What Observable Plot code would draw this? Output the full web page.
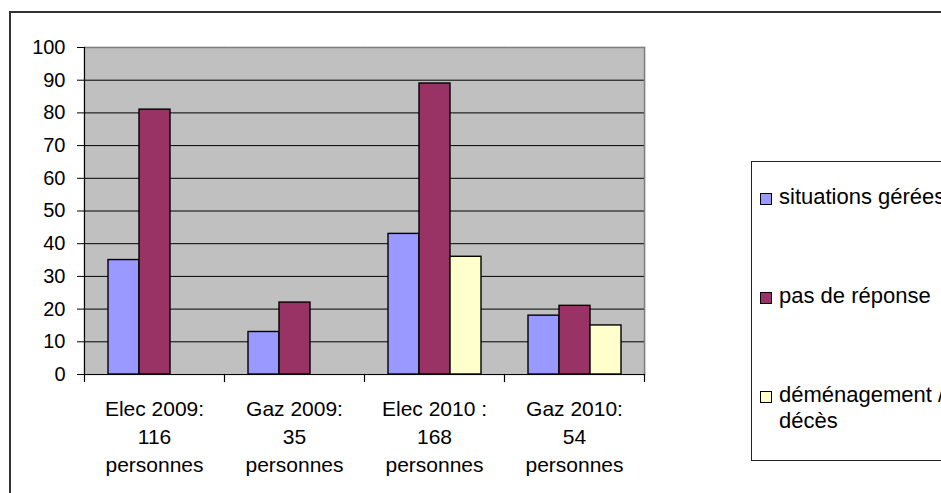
<!DOCTYPE html>
<html>
<head>
<meta charset="utf-8">
<script src="https://cdn.jsdelivr.net/npm/d3@7"></script>
<script src="https://cdn.jsdelivr.net/npm/@observablehq/plot@0.6"></script>
<style>
  html, body { margin: 0; padding: 0; background: #fff; }
  #wrap { position: relative; width: 941px; height: 493px; overflow: hidden; font-family: "Liberation Sans", Arial, sans-serif; }
  #outer { position: absolute; left: 9px; top: 11px; width: 2000px; height: 2000px; border-left: 2px solid #333; border-top: 2px solid #333; }
  #chart { position: absolute; left: 0; top: 0; }
  #legend { position: absolute; left: 751px; top: 161px; width: 400px; height: 298px; border: 1px solid #222; background: #fff; }
  .item { position: absolute; left: 0; font-size: 22px; line-height: 26px; color: #000; white-space: pre-line; }
  .sw { position: absolute; left: 8px; top: 9px; width: 12px; height: 12px; box-sizing: border-box; border: 1.5px solid #000; }
  .lbl { position: absolute; left: 27px; top: 0; width: 300px; }
</style>
</head>
<body>
<div id="wrap">
  <div id="outer"></div>
  <div id="chart"></div>
  <div id="legend"></div>
</div>
<script>
const categories = ["Elec 2009:\n116\npersonnes", "Gaz 2009:\n35\npersonnes", "Elec 2010 :\n168\npersonnes", "Gaz 2010:\n54\npersonnes"];
const series = ["situations gérées", "pas de réponse", "déménagement / décès"];
const legendLabels = ["situations gérées", "pas de réponse", "déménagement /\ndécès"];
const situationsGerees = [35, 13, 43, 18];
const pasDeReponse = [81, 22, 89, 21];
const demenagementDeces = [null, null, 36, 15];
const colors = ["#9999FF", "#993366", "#FFFFCC"];
const yTicks = [0, 10, 20, 30, 40, 50, 60, 70, 80, 90, 100];
const gridLines = [10, 20, 30, 40, 50, 60, 70, 80, 90];

const seriesValues = [situationsGerees, pasDeReponse, demenagementDeces];
const rows = [];
categories.forEach((c, i) => {
  seriesValues.forEach((arr, j) => {
    if (arr[i] != null) rows.push({category: c, series: series[j], value: arr[i]});
  });
});

const W = 941, H = 493;
const mL = 84, mR = 297, mT = 47, mB = 119;
const plotH = H - mT - mB;

const chart = Plot.plot({
  width: W,
  height: H,
  marginLeft: mL,
  marginRight: mR,
  marginTop: mT,
  marginBottom: mB,
  style: {fontFamily: "'Liberation Sans', Arial, sans-serif", background: "transparent", color: "#000", overflow: "visible"},
  fx: {domain: categories, padding: 0, label: null},
  x: {domain: series, paddingInner: 0, paddingOuter: 0.75, axis: null},
  y: {domain: [0, 100], label: null},
  color: {domain: series, range: colors},
  marks: [
    Plot.frame({fill: "#C0C0C0", stroke: "#C0C0C0", strokeWidth: 1.5}),
    Plot.ruleY(gridLines, {stroke: "#000", strokeWidth: 1}),
    Plot.ruleY([100], {stroke: "#808080", strokeWidth: 1.5}),
    Plot.frame({anchor: "right", stroke: "#808080", strokeWidth: 1.5, facetAnchor: "right"}),
    Plot.barY(rows, {fx: "category", x: "series", y: "value", fill: "series", stroke: "#000", strokeWidth: 1.4}),
    Plot.ruleY([0], {stroke: "#000", strokeWidth: 1.2}),
    Plot.frame({anchor: "left", stroke: "#000", strokeWidth: 1.2, facetAnchor: "left"}),
    Plot.frame({anchor: "left", stroke: "#000", strokeWidth: 1.2, insetTop: plotH, insetBottom: -7}),
    Plot.frame({anchor: "right", stroke: "#000", strokeWidth: 1.2, insetTop: plotH, insetBottom: -7, facetAnchor: "right"}),
    Plot.axisY({ticks: yTicks, tickSize: 7, tickPadding: 12, fontSize: 20, label: null, tickFormat: d => String(d), facetAnchor: "left"}),
    Plot.axisFx({anchor: "bottom", tickSize: 0, tickPadding: 22, fontSize: 21, lineHeight: 1.33, label: null})
  ]
});
document.getElementById("chart").appendChild(chart);

const legend = document.getElementById("legend");
const tops = [21.7, 121.4, 220.4];
legendLabels.forEach((name, i) => {
  const item = document.createElement("div");
  item.className = "item";
  item.style.top = tops[i] + "px";
  const sw = document.createElement("div");
  sw.className = "sw";
  sw.style.background = colors[i];
  const lbl = document.createElement("div");
  lbl.className = "lbl";
  lbl.textContent = name;
  item.appendChild(sw);
  item.appendChild(lbl);
  legend.appendChild(item);
});
</script>
</body>
</html>
